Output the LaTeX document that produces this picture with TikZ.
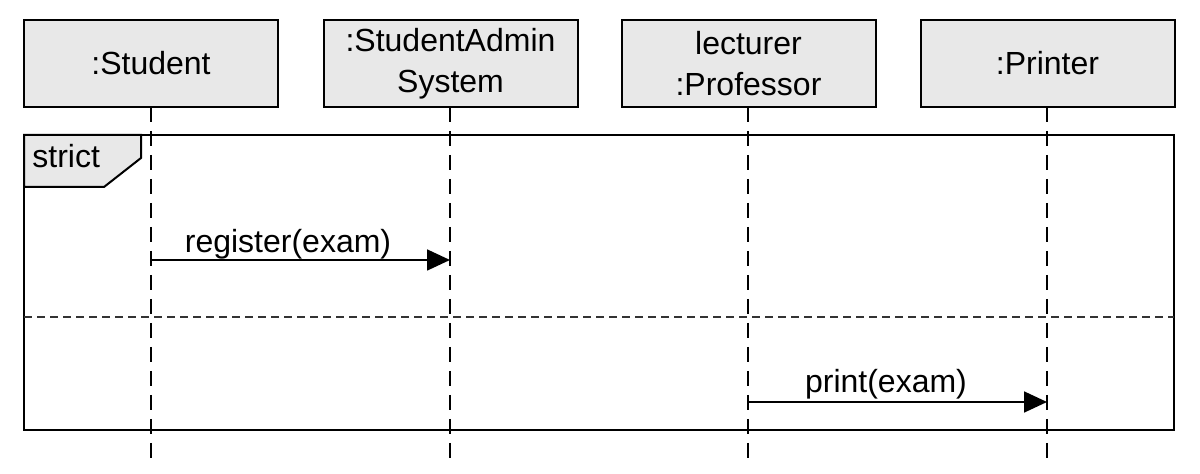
\documentclass[tikz,border=0pt]{standalone}
\usepackage{fontspec}
\setmainfont{Liberation Sans}
\usetikzlibrary{arrows.meta}
\definecolor{boxgray}{HTML}{E8E8E8}
\begin{document}
\begin{tikzpicture}[x=0.5pt,y=-0.5pt,
  lifebox/.style={draw=black,line width=1pt,fill=boxgray,minimum width=127pt,minimum height=43.5pt,inner sep=0pt,align=center,font=\fontsize{16}{20.5}\selectfont},
  lifeline/.style={line width=0.9pt,dash pattern=on 7.5pt off 4.5pt},
  sepline/.style={line width=0.9pt,dash pattern=on 4pt off 2.5pt,draw=black!80},
  msg/.style={line width=0.9pt,-{Triangle[length=11.5pt,width=10.5pt]}},
  msglabel/.style={anchor=base,inner sep=0pt,font=\fontsize{16}{19}\selectfont},
  framebox/.style={draw=black,line width=1pt}]
\useasboundingbox (0,0) rectangle (1200,474);
% lifeline end points
\coordinate (l1t) at (151,107); \coordinate (l1b) at (151,465);
\coordinate (l2t) at (450,107); \coordinate (l2b) at (450,465);
\coordinate (l3t) at (748,107); \coordinate (l3b) at (748,465);
\coordinate (l4t) at (1047,107); \coordinate (l4b) at (1047,465);
% frame
\node[framebox,minimum width=575pt,minimum height=147.5pt,inner sep=0pt] (frame) at (599,282.5) {};
\draw[framebox,fill=boxgray] (24,135) -- (141,135) -- (141,158) -- (104,187) -- (24,187) -- cycle;
\node[anchor=base west,inner sep=0pt,font=\fontsize{16}{19}\selectfont] (strict) at (32,168) {strict};
\coordinate (sepl) at (24,317); \coordinate (sepr) at (1174,317);
\draw[sepline] (sepl) -- (sepr);
\draw[lifeline] (l1t) -- (l1b);
\draw[lifeline] (l2t) -- (l2b);
\draw[lifeline] (l3t) -- (l3b);
\draw[lifeline] (l4t) -- (l4b);
% lifeline heads
\node[lifebox] (student) at (151,63.5) {:Student};
\node[lifebox] (admin) at (450.5,63.5) {:StudentAdmin\\System};
\node[lifebox] (prof) at (748.5,63.5) {lecturer\\:Professor};
\node[lifebox] (printer) at (1047.5,63.5) {:Printer};
% messages
\coordinate (m1s) at (151,260); \coordinate (m1e) at (450,260);
\draw[msg] (m1s) -- (m1e);
\node[msglabel] (m1l) at (288,253) {register(exam)};
\coordinate (m2s) at (748,402); \coordinate (m2e) at (1047,402);
\draw[msg] (m2s) -- (m2e);
\node[msglabel] (m2l) at (886,393) {print(exam)};
\end{tikzpicture}
\end{document}
